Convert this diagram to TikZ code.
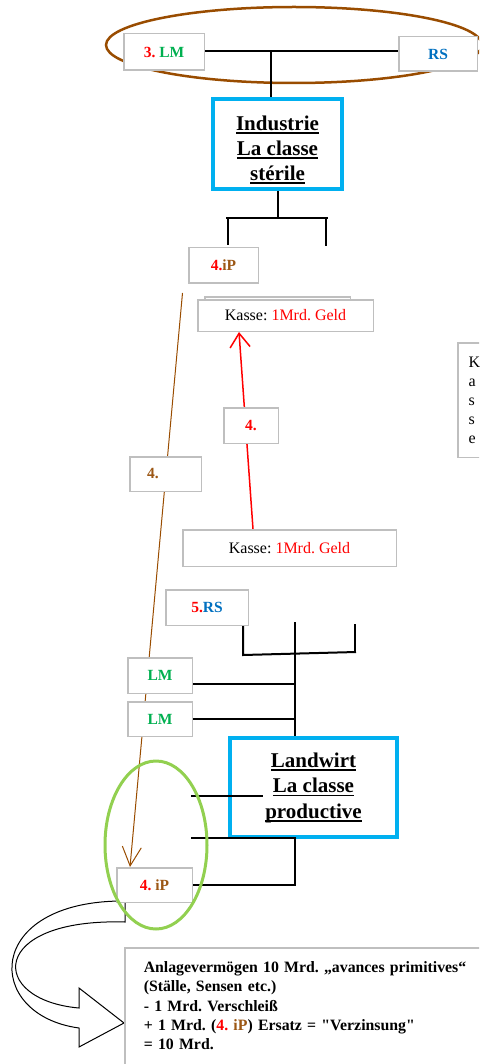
\documentclass[tikz,border=0pt]{standalone}
\usepackage{fontspec}
\setmainfont{Liberation Serif}[Ligatures=TeXOff]
\usetikzlibrary{arrows.meta,backgrounds}
\definecolor{boxgray}{RGB}{191,191,191}
\definecolor{cyanbox}{RGB}{0,176,240}
\definecolor{redc}{RGB}{255,0,0}
\definecolor{greent}{RGB}{0,176,80}
\definecolor{bluet}{RGB}{0,112,192}
\definecolor{brownc}{RGB}{153,76,0}
\definecolor{brownt}{RGB}{156,87,20}
\definecolor{lgreen}{RGB}{146,208,80}
\newcommand\ulx[1]{\setbox0\hbox{#1}\rlap{\rule[-3.5pt]{\wd0}{1.5pt}}\box0}
\begin{document}
\frenchspacing
\begin{tikzpicture}[x=1pt,y=-1pt,
  gbox/.style={draw=boxgray, line width=1.5pt, fill=white, rectangle, inner sep=0pt},
  cbox/.style={draw=cyanbox, line width=4pt, fill=white, rectangle, inner sep=0pt},
  lbl/.style={font=\fontsize{15.5}{18}\selectfont\bfseries},
  kas/.style={font=\fontsize{16}{19}\selectfont},
  conn/.style={draw=black, line width=2pt},
  bigtxt/.style={font=\fontsize{21}{25}\selectfont\bfseries, align=center}]
\useasboundingbox (0,0) rectangle (479,1064);
\clip (0,0) rectangle (479,1064);

% nodes
\node[gbox, minimum width=80.5, minimum height=36.5, lbl] (lm3) at (164,52) {\textcolor{redc}{3.} \textcolor{greent}{LM}};
\node[gbox, minimum width=78.5, minimum height=34.5, lbl] (rs) at (438,54) {\textcolor{bluet}{RS}};
\node[cbox, minimum width=129, minimum height=90] (ind) at (277.5,144) {};
\node[bigtxt, inner sep=0pt] (indtxt) at (277.5,149.6) {\ulx{Industrie}\\\ulx{La classe}\\\ulx{stérile}};
\node[gbox, minimum width=69.5, minimum height=35.5, lbl] (ip4t) at (223.5,265.5) {\textcolor{redc}{4.}\textcolor{brownt}{iP}};
\node[gbox, minimum width=145.5, minimum height=32.5] (kback) at (277.5,313) {};
\node[gbox, minimum width=175.5, minimum height=31.5, kas] (kasse1) at (285.5,315.5) {Kasse: \textcolor{redc}{1Mrd. Geld}};
\node[gbox, minimum width=54.5, minimum height=35.5, lbl] (l4r) at (251,425.5) {\textcolor{redc}{4.}};
\node[gbox, minimum width=213.5, minimum height=36.5, kas] (kasse2) at (289.5,548) {Kasse: \textcolor{redc}{1Mrd. Geld}};
\node[gbox, minimum width=71.5, minimum height=34.5] (l4b) at (165.5,474) {};
\node[lbl, text=brownt, inner sep=0pt] (l4btxt) at (153,474) {4.};
\node[gbox, minimum width=32, minimum height=114.5] (kbox) at (474,400) {};
\node[kas, anchor=west, inner sep=0pt, align=left] (kbtxt) at (468.5,400) {K\\a\\s\\s\\e};
\node[gbox, minimum width=82.5, minimum height=35.5, lbl] (rs5) at (207,607.5) {\textcolor{redc}{5.}\textcolor{bluet}{RS}};
\node[gbox, minimum width=64.5, minimum height=35.5, lbl, text=greent] (lm1) at (160,675.5) {LM};
\node[gbox, minimum width=64.5, minimum height=34.5, lbl, text=greent] (lm2) at (160,719) {LM};
\node[cbox, minimum width=167, minimum height=99, bigtxt, font=\fontsize{21}{25.5}\selectfont\bfseries] (land) at (313.5,787.5) {\ulx{Landwirt}\\\ulx{La classe}\\\ulx{productive}};
\node[gbox, minimum width=75.5, minimum height=34.5, lbl] (ip4b) at (154.5,885) {\textcolor{redc}{4.} \textcolor{brownt}{iP}};
\node[gbox, anchor=north west, text width=340pt, inner xsep=19pt, inner ysep=14pt, align=left,
      font=\fontsize{15.8}{19.25}\selectfont\bfseries] (note) at (124,947)
  {Anlagevermögen 10 Mrd. „avances primitives“\\(Ställe, Sensen etc.)\\- 1 Mrd. Verschleiß\\+ 1 Mrd. (\textcolor{redc}{4.} \textcolor{brownt}{iP}) Ersatz = "Verzinsung"\\= 10 Mrd.\rule[-30pt]{0pt}{1pt}};

% background elements
\begin{scope}[on background layer]
  \clip (0,0) rectangle (479,1064);
  \draw[brownc, line width=2.5pt] (294,45) ellipse [x radius=188, y radius=38];
  \coordinate (bs) at (182.5,293);
  \draw[brownc, line width=1pt, -{Straight Barb[length=19pt,width=19pt]}] (bs) -- ([xshift=-24.5pt]ip4b.north);
  \draw[redc, line width=1.5pt, -{Straight Barb[length=14pt,width=20pt]}] ([xshift=-36.5pt]kasse2.north) -- ([xshift=-46.5pt]kasse1.south);
  \draw[black, line width=1pt, fill=white] (125,901) -- (125,922) .. controls (-12,918) and (-12,1000) .. (79,1008) -- (79,988) -- (124,1023) -- (79,1047) -- (79,1028) .. controls (-17,1015) and (-17,900) .. (125,901) -- cycle;
\end{scope}

% connectors
\coordinate (j1) at (271,51);
\draw[conn, line width=1.5pt] (lm3.east |- j1) -- (j1) -- (rs.west |- j1);
\draw[conn] (j1) -- (j1 |- ind.north);
\coordinate (j2) at (277.5,218);
\draw[conn] (ind.south) -- (j2);
\coordinate (h1) at (226,218);
\coordinate (h2) at (328,218);
\draw[conn] (h1) -- (h2);
\coordinate (t1) at (228,245);
\coordinate (t2) at (326,246);
\draw[conn] (t1 |- h1) -- (t1);
\draw[conn] (t2 |- h2) -- (t2);

\coordinate (r1) at (243,655);
\coordinate (r2) at (356,652);
\coordinate (r3) at (355,624);
\coordinate (vt) at (295,622);
\draw[conn] (rs5.south -| r1) -- (r1) -- (r2);
\draw[conn] (r3) -- (r3 |- r2);
\draw[conn] (vt) -- (vt |- land.north);
\draw[conn] ([yshift=-8.5pt]lm1.east) coordinate (a1) -- (a1 -| vt);
\draw[conn] (lm2.east) -- (lm2.east -| vt);
\coordinate (w1) at (191,796);
\coordinate (w2) at (263,796);
\draw[conn] (w1) -- (w2);
\coordinate (w3) at (191,838);
\coordinate (w4) at (295,838);
\draw[conn] (w3) -- (w4) -- (w4 |- ip4b.east) -- (ip4b.east);

% green ellipse on top
\draw[lgreen, line width=3pt] (156,845) ellipse [x radius=51, y radius=84];
\end{tikzpicture}
\end{document}
